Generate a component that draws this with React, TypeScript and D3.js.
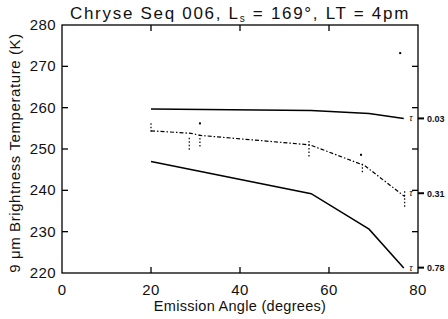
import React from "react";
import * as d3 from "d3";

const width = 448,
  height = 319;
const margin = { top: 25, right: 30, bottom: 46, left: 62 };

// emission angle ticks / temperature ticks
const angleTicks = [0, 20, 40, 60, 80];
const tempTicks = [220, 230, 240, 250, 260, 270, 280];

// three model curves (tau = 0.03, 0.31, 0.78)
const modelAngles = [20, 56, 69, 76.8];
const tempTau003 = [259.7, 259.3, 258.6, 257.4];
const tempTau078 = [247.0, 239.2, 230.6, 221.2];

// observed (dash-dot) curve
const obsAngles = [20, 29, 31, 55.7, 68, 77];
const obsTemps = [254.4, 253.8, 253.3, 251.0, 246.0, 238.5];

// scatter of individual observations: [angle, low, high]
const obsSpread = [
  [20, 254.2, 256.2],
  [28.6, 249.8, 253.2],
  [31, 250.6, 254.0],
  [55.5, 248.2, 252.0],
  [67.5, 244.4, 246.8],
  [77, 236.0, 239.8],
];
const obsDots = [
  [31, 256.2],
  [67.2, 248.6],
  [76, 273.2],
];

// tau labels on right axis
const tauLabels = ["0.03", "0.31", "0.78"];
const tauTemps = [257.4, 239.3, 221.3];

const font = "'Liberation Sans', Arial, sans-serif";

export default function App() {
  const x = d3
    .scaleLinear()
    .domain([0, 80])
    .range([margin.left, width - margin.right]);
  const y = d3
    .scaleLinear()
    .domain([220, 280])
    .range([height - margin.bottom, margin.top]);

  const line = d3
    .line<[number, number]>()
    .x((d) => x(d[0]))
    .y((d) => y(d[1]));

  const pts = (a: number[], t: number[]) =>
    a.map((v, i) => [v, t[i]] as [number, number]);

  const x0 = x(0),
    x1 = x(80),
    y0 = y(220),
    y1 = y(280);
  const tl = 6;

  return (
    <svg
      width={width}
      height={height}
      style={{ position: "absolute", left: 0, top: 0, background: "#fff" }}
      fontFamily={font}
      fill="#111"
    >
      <text
        x={(x0 + x1) / 2}
        y={19}
        textAnchor="middle"
        fontSize={17}
        letterSpacing={1.7}
      >
        Chryse Seq 006, L
        <tspan fontSize={10} dy={3}>
          s
        </tspan>
        <tspan dy={-3}> = 169°, LT = 4pm</tspan>
      </text>

      {/* frame */}
      <rect
        x={x0}
        y={y1}
        width={x1 - x0}
        height={y0 - y1}
        fill="none"
        stroke="#000"
        strokeWidth={1.3}
      />

      {/* x ticks */}
      {angleTicks.map((t) => (
        <g key={"x" + t}>
          {t > 0 && t < 80 && (
            <>
              <line x1={x(t)} x2={x(t)} y1={y0} y2={y0 - tl} stroke="#000" strokeWidth={1.3} />
              <line x1={x(t)} x2={x(t)} y1={y1} y2={y1 + tl} stroke="#000" strokeWidth={1.3} />
            </>
          )}
          <text x={x(t)} y={y0 + 22} textAnchor="middle" fontSize={15} letterSpacing={0.4}>
            {t}
          </text>
        </g>
      ))}

      {/* y ticks */}
      {tempTicks.map((t) => (
        <g key={"y" + t}>
          {t > 220 && t < 280 && (
            <>
              <line x1={x0} x2={x0 + tl} y1={y(t)} y2={y(t)} stroke="#000" strokeWidth={1.3} />
              <line x1={x1} x2={x1 - tl} y1={y(t)} y2={y(t)} stroke="#000" strokeWidth={1.3} />
            </>
          )}
          <text x={x0 - 6} y={y(t) + 5} textAnchor="end" fontSize={15} letterSpacing={0.4}>
            {t}
          </text>
        </g>
      ))}

      {/* tau ticks */}
      {tauTemps.map((t, i) => (
        <g key={"tau" + i}>
          <line x1={x1} x2={x1 + 6} y1={y(t)} y2={y(t)} stroke="#000" strokeWidth={2} />
          <text x={x1 - 7} y={y(t) + 3} textAnchor="middle" fontSize={9} fontStyle="italic">
            τ
          </text>
          <text x={x1 + 9} y={y(t) + 3.5} fontSize={9} fontWeight="bold">
            {tauLabels[i]}
          </text>
        </g>
      ))}

      {/* curves */}
      <path d={line(pts(modelAngles, tempTau003)) || ""} fill="none" stroke="#000" strokeWidth={1.5} />
      <path d={line(pts(modelAngles, tempTau078)) || ""} fill="none" stroke="#000" strokeWidth={1.5} />
      <path
        d={line(pts(obsAngles, obsTemps)) || ""}
        fill="none"
        stroke="#000"
        strokeWidth={1.2}
        strokeDasharray="4,2,1.5,2"
      />

      {obsSpread.map((d, i) => (
        <line
          key={"s" + i}
          x1={x(d[0])}
          x2={x(d[0])}
          y1={y(d[1])}
          y2={y(d[2])}
          stroke="#000"
          strokeWidth={1.2}
          strokeDasharray="1.5,2"
        />
      ))}
      {obsDots.map((d, i) => (
        <rect key={"d" + i} x={x(d[0]) - 1} y={y(d[1]) - 1} width={2} height={2} fill="#000" />
      ))}

      {/* axis labels */}
      <text x={(x0 + x1) / 2} y={y0 + 38} textAnchor="middle" fontSize={14.5} letterSpacing={0.3}>
        Emission Angle (degrees)
      </text>
      <text
        transform={`translate(20,${(y0 + y1) / 2 + 4}) rotate(-90)`}
        textAnchor="middle"
        fontSize={15}
        letterSpacing={0.6}
      >
        9 μm Brightness Temperature (K)
      </text>
    </svg>
  );
}
